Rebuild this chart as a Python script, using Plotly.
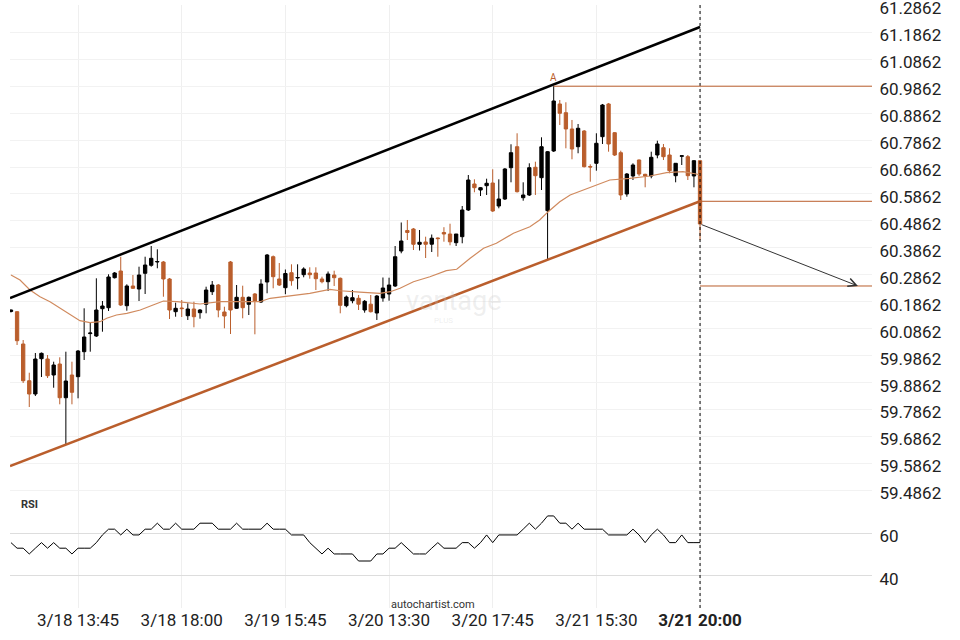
import plotly.graph_objects as go

# ---------------- data ----------------
idx = list(range(114))

opens = [60.1499, 60.1492, 60.0293, 59.8930, 59.8437, 59.9747, 59.9736, 59.9142, 59.9550, 59.8299,
         59.9142, 59.9079, 60.0007, 60.0679, 60.0590, 60.1603, 60.1640, 60.2754, 60.3002, 60.1714,
         60.2446, 60.2334, 60.2917, 60.3214, 60.3337, 60.3337, 60.2706, 60.1492, 60.1629, 60.1343,
         60.1592, 60.1455, 60.1766, 60.2234, 60.2483, 60.1481, 60.3337, 60.1618, 60.2026, 60.1766,
         60.2149, 60.1852, 60.2594, 60.3533, 60.2706, 60.2383, 60.2939, 60.2743, 60.2865, 60.2928,
         60.2928, 60.2706, 60.2605, 60.2854, 60.2731, 60.1714, 60.1900, 60.1989, 60.1555, 60.1770,
         60.1443, 60.2000, 60.2149, 60.2446, 60.3745, 60.4506, 60.4562, 60.3994, 60.4079, 60.3997,
         60.4227, 60.4432, 60.4376, 60.4053, 60.4276, 60.5267, 60.6232, 60.6009, 60.6169, 60.6269,
         60.5415, 60.5675, 60.6837, 60.7616, 60.5723, 60.5824, 60.6852, 60.6466, 60.5241, 60.7457,
         60.9202, 60.8879, 60.8274, 60.7616, 60.8199, 60.6882, 60.7000, 60.7988, 60.9202, 60.8136,
         60.7394, 60.5861, 60.6529, 60.7123, 60.6592, 60.6529, 60.7308, 60.7579, 60.7308, 60.6540,
         60.7260, 60.7245, 60.6529, 60.7097]

highs = [60.1573, 60.1510, 60.0441, 59.9227, 59.9959, 59.9977, 59.9884, 59.9636, 59.9799, 60.0007,
         59.9636, 60.0070, 60.1618, 60.1083, 60.2731, 60.1889, 60.2880, 60.2965, 60.3533, 60.2509,
         60.2854, 60.3162, 60.3533, 60.3930, 60.3808, 60.3374, 60.2743, 60.1826, 60.1926, 60.1804,
         60.1863, 60.1592, 60.2420, 60.2631, 60.2520, 60.1677, 60.3374, 60.2483, 60.2457, 60.2056,
         60.2186, 60.2694, 60.3634, 60.3578, 60.3299, 60.3058, 60.3251, 60.3251, 60.3140, 60.3140,
         60.3140, 60.2791, 60.2984, 60.3014, 60.2761, 60.2093, 60.2297, 60.2112, 60.1926, 60.2112,
         60.2112, 60.2761, 60.2754, 60.3930, 60.4803, 60.4896, 60.4599, 60.4524, 60.4276, 60.4357,
         60.4246, 60.4628, 60.4758, 60.4376, 60.5415, 60.6566, 60.6406, 60.6121, 60.6429, 60.6778,
         60.6406, 60.6826, 60.7706, 60.8114, 60.6295, 60.7000, 60.7060, 60.7965, 60.7457, 60.9862,
         60.9350, 60.9265, 60.8608, 60.8459, 60.8236, 60.6963, 60.8114, 60.9202, 60.9239, 60.8162,
         60.7468, 60.6640, 60.7000, 60.7141, 60.6611, 60.7431, 60.7839, 60.7717, 60.7557, 60.7011,
         60.7290, 60.7308, 60.7116, 60.7116]

lows = [60.1462, 60.0256, 59.8845, 59.7954, 59.8362, 59.9068, 59.9031, 59.8670, 59.8054, 59.6544,
        59.8054, 59.8277, 59.9699, 60.0007, 60.0553, 60.0749, 60.1518, 60.2724, 60.1703, 60.1529,
        60.2334, 60.1889, 60.2149, 60.3162, 60.3103, 60.2048, 60.1221, 60.1306, 60.1295, 60.1184,
        60.0913, 60.1232, 60.1432, 60.2112, 60.1284, 60.0875, 60.0664, 60.1592, 60.1247, 60.1369,
        60.0653, 60.1815, 60.2175, 60.2360, 60.2446, 60.2141, 60.2457, 60.2323, 60.2769, 60.2717,
        60.2297, 60.2546, 60.2260, 60.2446, 60.1432, 60.1655, 60.1804, 60.1555, 60.1455, 60.1462,
        60.1184, 60.1863, 60.1900, 60.2409, 60.3660, 60.4153, 60.3782, 60.3763, 60.3485, 60.3708,
        60.3533, 60.4090, 60.3956, 60.3930, 60.4031, 60.5230, 60.5924, 60.5786, 60.5824, 60.5193,
        60.5330, 60.5638, 60.6295, 60.5916, 60.5612, 60.5786, 60.5824, 60.6009, 60.3411, 60.7420,
        60.8422, 60.7557, 60.7149, 60.7372, 60.6846, 60.6317, 60.6726, 60.7717, 60.7431, 60.7271,
        60.5638, 60.5760, 60.6380, 60.6529, 60.6109, 60.6444, 60.7186, 60.7123, 60.6629, 60.6295,
        60.6937, 60.6380, 60.6109, 60.4153]

closes = [60.1555, 60.0415, 59.8930, 59.8437, 59.9736, 59.9947, 59.9116, 59.9513, 59.8299, 59.8919,
          59.8500, 60.0033, 60.0553, 60.0701, 60.1555, 60.1703, 60.2780, 60.2928, 60.1740, 60.2446,
          60.2360, 60.2854, 60.3225, 60.3474, 60.3355, 60.2706, 60.1555, 60.1618, 60.1607, 60.1592,
          60.1306, 60.1555, 60.2297, 60.2483, 60.1555, 60.1332, 60.1555, 60.2026, 60.1640, 60.2026,
          60.1889, 60.2520, 60.3596, 60.2791, 60.2483, 60.2910, 60.2642, 60.2761, 60.3077, 60.2865,
          60.2717, 60.2605, 60.2891, 60.2754, 60.1729, 60.2037, 60.2011, 60.1770, 60.1878, 60.1492,
          60.2074, 60.2371, 60.2483, 60.3533, 60.4116, 60.4432, 60.3994, 60.4068, 60.3994, 60.4220,
          60.4205, 60.4376, 60.4086, 60.4376, 60.5267, 60.6380, 60.6095, 60.6095, 60.6258, 60.5230,
          60.5675, 60.6789, 60.7394, 60.5946, 60.5824, 60.6837, 60.6540, 60.7616, 60.7431, 60.9313,
          60.8856, 60.8274, 60.7531, 60.8300, 60.6874, 60.6863, 60.7743, 60.9164, 60.7717, 60.7308,
          60.5824, 60.6603, 60.6937, 60.6603, 60.6529, 60.7223, 60.7717, 60.7245, 60.6726, 60.7000,
          60.7279, 60.6540, 60.7097, 60.4747]

ma_idx = [0, 1.48, 3.12, 4.76, 6.40, 8.04, 9.68, 11.3, 12.95, 14.6, 15.7, 17.3, 19.0, 21.2, 23.3,
          25.0, 27.2, 28.8, 31.0, 34.3, 40.8, 42.5, 45.8, 49.0, 52.3, 54.0, 57.2, 60.5, 62.2, 63.8,
          66.0, 68.7, 71.4, 73.1, 75.3, 77.5, 79.6, 82.4, 85.1, 86.7, 88.1, 90.0, 91.7, 93.9, 96.0,
          98.2, 101.5, 104.8, 107.5, 110.2, 112.4, 113]
ma_val = [60.2854, 60.2668, 60.2297, 60.2048, 60.1863, 60.1618, 60.1369, 60.1158, 60.1084, 60.1121,
          60.1247, 60.1369, 60.1432, 60.1555, 60.1740, 60.1889, 60.1863, 60.1826, 60.1777, 60.1863,
          60.1863, 60.1989, 60.2074, 60.2174, 60.2323, 60.2270, 60.2222, 60.2174, 60.2234, 60.2360,
          60.2605, 60.2791, 60.3014, 60.3066, 60.3474, 60.3845, 60.4031, 60.4402, 60.4647, 60.4896,
          60.5204, 60.5575, 60.5824, 60.6009, 60.6195, 60.6380, 60.6443, 60.6529, 60.6651, 60.6688,
          60.6603, 60.6566]

rsi = [55.6, 53.0, 53.0, 50.3, 53.0, 55.6, 53.0, 55.6, 53.0, 53.0,
       50.3, 53.0, 53.0, 53.0, 55.6, 59.2, 61.9, 61.9, 59.2, 61.9,
       59.2, 59.2, 61.9, 61.9, 64.7, 61.9, 61.9, 64.7, 61.9, 61.9,
       61.9, 64.7, 64.7, 64.7, 61.9, 61.9, 61.9, 64.7, 61.9, 61.9,
       61.9, 61.9, 64.7, 61.9, 61.9, 61.9, 59.2, 59.2, 59.2, 55.6,
       53.0, 50.3, 53.0, 50.3, 50.3, 50.3, 50.3, 47.0, 47.0, 47.0,
       50.3, 50.3, 53.0, 53.0, 55.6, 53.0, 50.3, 50.3, 50.3, 53.0,
       55.6, 53.0, 53.0, 53.0, 55.6, 55.6, 53.0, 55.6, 59.2, 55.6,
       59.2, 59.2, 59.2, 59.2, 61.9, 64.7, 61.9, 64.7, 68.1, 68.1,
       64.7, 64.7, 61.9, 64.7, 61.9, 61.9, 61.9, 61.9, 59.2, 59.2,
       59.2, 59.2, 61.9, 59.2, 55.6, 59.2, 61.9, 59.2, 55.6, 55.6,
       59.2, 55.6, 55.6, 55.6]

tick_idx = [11, 28, 45, 62, 79, 96, 113]
tick_text = ["3/18 13:45", "3/18 18:00", "3/19 15:45", "3/20 13:30",
             "3/20 17:45", "3/21 15:30", "<b>3/21 20:00</b>"]

price_ticks = [59.4862, 59.5862, 59.6862, 59.7862, 59.8862, 59.9862, 60.0862, 60.1862,
               60.2862, 60.3862, 60.4862, 60.5862, 60.6862, 60.7862, 60.8862, 60.9862,
               61.0862, 61.1862, 61.2862]
price_labels = ["59.4862", "59.5862", "59.6862", "59.7862", "59.8862", "59.9862", "60.0862",
                "60.1862", "60.2862", "60.3862", "60.4862", "60.5862", "60.6862", "60.7862",
                "60.8862", "60.9862", "61.0862", "61.1862", "61.2862"]
rsi_ticks = [40, 60]
rsi_labels = ["40", "60"]

upper_x = [-0.16, 113]
upper_y = [60.2000, 61.2060]
lower_x = [-0.16, 113]
lower_y = [59.5764, 60.5590]

a_idx = 89
a_level = 60.9862
last_idx = 113
breakout_level = 60.5590
target_level = 60.2446
target_idx = 138.9

# ---------------- style ----------------
BLACK = "#000000"
ORANGE = "#BA5E2C"
MA_COLOR = "#D08A5E"
FONT = "Roboto"
X_MAX = 141.2

fig = go.Figure()

fig.add_trace(go.Candlestick(
    x=idx, open=opens, high=highs, low=lows, close=closes,
    increasing=dict(line=dict(color=BLACK, width=1), fillcolor=BLACK),
    decreasing=dict(line=dict(color=ORANGE, width=1), fillcolor=ORANGE),
    whiskerwidth=0, showlegend=False, hoverinfo="skip", xaxis="x", yaxis="y"))

fig.add_trace(go.Scatter(x=ma_idx, y=ma_val, mode="lines",
                         line=dict(color=MA_COLOR, width=1.2), showlegend=False,
                         hoverinfo="skip", xaxis="x", yaxis="y"))

fig.add_trace(go.Scatter(x=upper_x, y=upper_y, mode="lines",
                         line=dict(color=BLACK, width=2.5), showlegend=False,
                         hoverinfo="skip", xaxis="x", yaxis="y"))
fig.add_trace(go.Scatter(x=lower_x, y=lower_y, mode="lines",
                         line=dict(color=ORANGE, width=2.5), showlegend=False,
                         hoverinfo="skip", xaxis="x", yaxis="y"))

fig.add_trace(go.Scatter(x=idx, y=rsi, mode="lines",
                         line=dict(color=BLACK, width=1), showlegend=False,
                         hoverinfo="skip", xaxis="x", yaxis="y2"))

shapes = [
    dict(type="line", xref="x", yref="paper", x0=last_idx, x1=last_idx, y0=0, y1=1,
         line=dict(color=BLACK, width=1, dash="dot")),
    dict(type="line", xref="x", yref="y", x0=a_idx, x1=X_MAX, y0=a_level, y1=a_level,
         line=dict(color=ORANGE, width=1)),
    dict(type="line", xref="x", yref="y", x0=last_idx, x1=X_MAX, y0=breakout_level,
         y1=breakout_level, line=dict(color=ORANGE, width=1)),
    dict(type="line", xref="x", yref="y", x0=last_idx, x1=X_MAX, y0=target_level,
         y1=target_level, line=dict(color=ORANGE, width=1)),
]

annotations = [
    dict(x=target_idx, y=target_level, xref="x", yref="y", ax=last_idx, ay=closes[-1],
         axref="x", ayref="y", text="", showarrow=True, arrowhead=5, arrowsize=1.6,
         arrowwidth=1, arrowcolor="#333333"),
    dict(x=a_idx, y=a_level, xref="x", yref="y", text="A", showarrow=False,
         yanchor="bottom", yshift=1, font=dict(family=FONT, size=10, color=ORANGE)),
    dict(x=(19 - 10) / 862, y=(608 - 504) / 603, xref="paper", yref="paper", text="<b>RSI</b>",
         showarrow=False, xanchor="left", yanchor="middle",
         font=dict(family=FONT, size=11, color="#333333")),
    dict(x=(433 - 10) / 862, y=(608 - 604) / 603, xref="paper", yref="paper",
         text="autochartist.com", showarrow=False, xanchor="center", yanchor="middle",
         font=dict(family=FONT, size=11, color="#333333")),
    dict(x=72.5, y=60.190, xref="x", yref="y", text="vantage", showarrow=False,
         font=dict(family=FONT, size=27, color="rgba(200,200,200,0.30)")),
    dict(x=71.0, y=60.118, xref="x", yref="y", text="PLUS", showarrow=False,
         font=dict(family=FONT, size=8, color="rgba(200,200,200,0.30)")),
]

split = 113 / 603

fig.update_layout(
    width=960, height=640,
    margin=dict(l=10, r=88, t=5, b=32, autoexpand=False),
    paper_bgcolor="white", plot_bgcolor="white",
    font=dict(family=FONT, color="#222222"),
    showlegend=False, hovermode=False, boxgap=0.22,
    shapes=shapes, annotations=annotations,
    xaxis=dict(range=[-0.16, X_MAX], tickvals=tick_idx, ticktext=tick_text,
               showgrid=True, gridcolor="#efefef", gridwidth=1, zeroline=False,
               showline=False, ticks="", automargin=False, ticklabeloverflow="allow",
               tickfont=dict(family=FONT, size=17, color="#222222"), anchor="y2",
               rangeslider=dict(visible=False), fixedrange=True),
    yaxis=dict(domain=[split, 1], range=[59.4688, 61.2876], side="right", anchor="x",
               tickvals=price_ticks, ticktext=price_labels, showgrid=True,
               gridcolor="#f2f2f2", zeroline=False, showline=False, ticks="outside",
               ticklen=3, tickcolor="rgba(0,0,0,0)", automargin=False, ticklabelshift=3,
               ticklabeloverflow="allow", fixedrange=True,
               tickfont=dict(family=FONT, size=17, color="#222222")),
    yaxis2=dict(domain=[0, split], range=[25, 77.9], side="right", anchor="x",
                tickvals=rsi_ticks, ticktext=rsi_labels, showgrid=True,
                gridcolor="#dddddd", zeroline=False, showline=False, ticks="outside",
                ticklen=3, tickcolor="rgba(0,0,0,0)", automargin=False, ticklabelshift=3,
                ticklabeloverflow="allow", fixedrange=True,
                tickfont=dict(family=FONT, size=17, color="#222222")),
)

fig.write_html("out.html", config={"displayModeBar": False},
               post_script="document.body.style.margin='0';")
